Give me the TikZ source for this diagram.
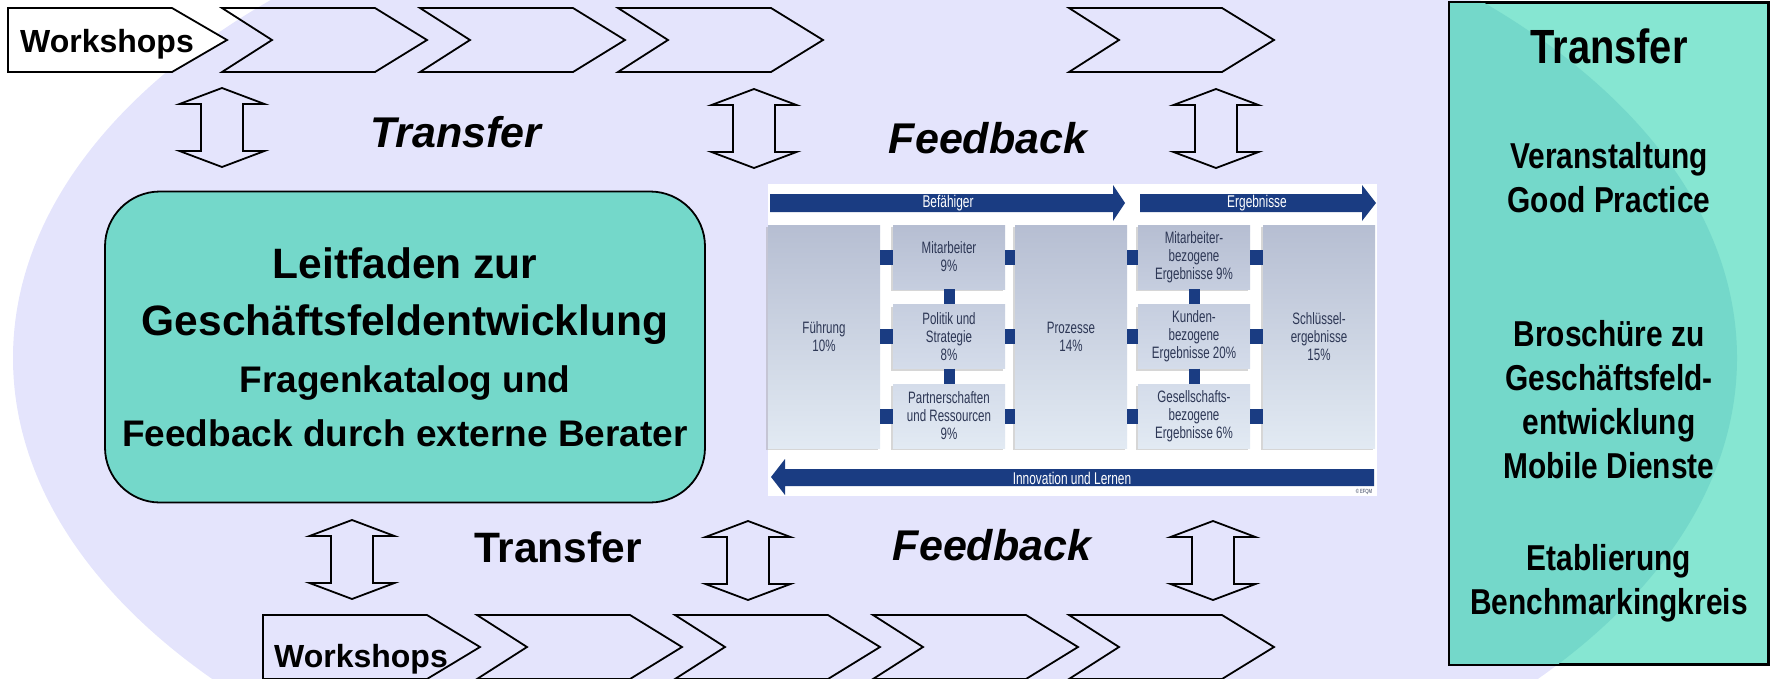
\documentclass[tikz,border=0pt]{standalone}
\usepackage{fontspec}
\usetikzlibrary{shadows}
\setmainfont{Liberation Sans}
\newfontfamily\narrowfont{Liberation Sans}[FakeStretch=0.83]
\newfontfamily\efqmfont{Liberation Sans}[FakeStretch=0.7]

\definecolor{lavender}{RGB}{228,228,252}
\definecolor{tealdark}{RGB}{116,216,202}
\definecolor{teallight}{RGB}{134,230,210}
\definecolor{efqmblue}{RGB}{26,60,130}
\definecolor{efqmgrey}{RGB}{45,55,85}
\definecolor{skyA}{RGB}{182,190,210}
\definecolor{skyB}{RGB}{198,206,223}
\definecolor{skyC}{RGB}{212,220,234}
\definecolor{skyD}{RGB}{226,234,243}

\newcommand{\smallline}{\fontsize{37}{57}\selectfont}

\begin{document}
\begin{tikzpicture}[x=1pt, y=-1pt]
        \tikzstyle{block line}=[draw=black, line width=1.8pt, line join=miter]
        \tikzstyle{flow text}=[inner sep=0pt, anchor=base,
            font=\bfseries\itshape\fontsize{43}{50}\selectfont]
        \tikzstyle{workshop}=[inner sep=0pt, anchor=base,
            font=\bfseries\fontsize{32}{38}\selectfont]
        \tikzstyle{main box}=[block line, fill=tealdark, rounded corners=55pt,
            minimum width=600pt, minimum height=311pt, align=center,
            font=\bfseries\fontsize{42.5}{57}\selectfont]
        \tikzstyle{panel text}=[align=center,
            font=\narrowfont\bfseries\fontsize{36}{44}\selectfont]
        \tikzstyle{model}=[inner sep=0pt, minimum width=112pt, align=center,
            text=efqmgrey, font=\efqmfont\fontsize{16.5}{18}\selectfont,
            shading=axis, top color=skyA, bottom color=skyD,
            drop shadow={shadow xshift=-2pt, shadow yshift=-2pt,
                opacity=0.35, fill=black!45}]
        \tikzstyle{model tall}=[model, minimum height=223pt]
        \tikzstyle{model small}=[model, minimum height=64pt]
        \tikzstyle{row one}=[top color=skyA, bottom color=skyB]
        \tikzstyle{row two}=[top color=skyB, bottom color=skyC]
        \tikzstyle{row three}=[top color=skyC, bottom color=skyD]
        \tikzstyle{bar text}=[text=white, font=\efqmfont\fontsize{17}{20}\selectfont]
        \tikzstyle{hlink}=[efqmblue, line width=15pt]
        \tikzstyle{vlink}=[efqmblue, line width=11pt]

        \useasboundingbox (0,0) rectangle (1770,678);
        \clip (0,0) rectangle (1770,678);

        % Background ellipse
        \fill[lavender] (875,358) ellipse [x radius=862, y radius=502];

        % Workshop chevrons, top and bottom row
        \draw[block line, fill=white] (8,8) -- (172,8) -- (227,40) -- (172,72)
            -- (8,72) -- cycle;
        \node[workshop] (wstop) at (107,52) {Workshops};
        \foreach \x in {222,420,618,1069}
            \draw[block line] (\x,8) -- ++(153,0) -- ++(52,32) -- ++(-52,32)
                -- ++(-153,0) -- ++(50,-32) -- cycle;

        \draw[block line] (263,615) -- (427,615) -- (480,647) -- (427,679)
            -- (263,679) -- cycle;
        \node[workshop] (wsbot) at (361,667) {Workshops};
        \foreach \x in {477,675,873,1069}
            \draw[block line] (\x,615) -- ++(153,0) -- ++(52,32) -- ++(-52,32)
                -- ++(-153,0) -- ++(50,-32) -- cycle;

        % Double arrows between the rows and the middle
        \foreach \x / \y in {222/88, 754/89, 1216/89, 352/520, 748/521, 1213/521}
            \draw[block line] (\x,\y) -- ++(42.5,16) -- ++(-21.5,0) -- ++(0,47)
                -- ++(21.5,0) -- ++(-42.5,16) -- ++(-42.5,-16) -- ++(21.5,0)
                -- ++(0,-47) -- ++(-21.5,0) -- cycle;

        \node[flow text] (transfertop) at (456,147) {Transfer};
        \node[flow text] (feedbacktop) at (988,153) {Feedback};
        \node[flow text, font=\bfseries\fontsize{42.5}{50}\selectfont]
            (transferbot) at (558,562) {Transfer};
        \node[flow text] (feedbackbot) at (992,560) {Feedback};

        % Guide box
        \node[main box] (guide) at (405,347)
            {Leitfaden zur\\Geschäftsfeldentwicklung\\
            \smallline Fragenkatalog und\\[-3pt]
            \smallline Feedback durch externe Berater};

        % EFQM model
        \node[fill=white, inner sep=0pt, minimum width=609pt,
            minimum height=312pt] (efqm) at (1072.5,340) {};
        \fill[efqmblue] (770,194) -- (1113,194) -- (1113,185) -- (1125,203)
            -- (1113,221) -- (1113,212) -- (770,212) -- cycle;
        \fill[efqmblue] (1140,194) -- (1362,194) -- (1362,185) -- (1376,203)
            -- (1362,221) -- (1362,212) -- (1140,212) -- cycle;
        \fill[efqmblue] (1374,469) -- (785,469) -- (785,459) -- (771,477)
            -- (785,495) -- (785,486) -- (1374,486) -- cycle;
        \node[bar text] (enablers) at (948,203) {Befähiger};
        \node[bar text] (results) at (1257,203) {Ergebnisse};
        \node[bar text] (learning) at (1072,478) {Innovation und Lernen};
        \node[text=efqmgrey, font=\efqmfont\fontsize{6}{7}\selectfont]
            (efqmcopy) at (1364,492) {© EFQM};

        \node[model tall] (fue) at (824,336.5) {Führung\\10\%};
        \node[model small, row one] (mit) at (949,257) {Mitarbeiter\\9\%};
        \node[model small, row two] (pol) at (949,336.5)
            {Politik und\\Strategie\\8\%};
        \node[model small, row three] (par) at (949,416)
            {Partnerschaften\\und Ressourcen\\9\%};
        \node[model tall] (pro) at (1071,336.5) {Prozesse\\14\%};
        \node[model small, row one] (emi) at (1194,257)
            {Mitarbeiter-\\bezogene\\Ergebnisse 9\%};
        \node[model small, row two] (eku) at (1194,336.5)
            {Kunden-\\bezogene\\Ergebnisse 20\%};
        \node[model small, row three] (ege) at (1194,416)
            {Gesellschafts-\\bezogene\\Ergebnisse 6\%};
        \node[model tall] (sch) at (1319,336.5)
            {Schlüssel-\\ergebnisse\\15\%};

        % Links between the criteria
        \foreach \b in {mit,pol,par} {
            \draw[hlink] (\b.west -| fue.east) -- (\b.west);
            \draw[hlink] (\b.east) -- (\b.east -| pro.west);
        }
        \foreach \b in {emi,eku,ege} {
            \draw[hlink] (\b.west -| pro.east) -- (\b.west);
            \draw[hlink] (\b.east) -- (\b.east -| sch.west);
        }
        \foreach \a / \b in {mit/pol, pol/par, emi/eku, eku/ege}
            \draw[vlink] (\a) -- (\b);

        % Transfer panel
        \node[block line, fill=teallight, inner sep=0pt, minimum width=318pt,
            minimum height=661pt] (panel) at (1609,333.5) {};
        \begin{scope}
            \clip (panel.north west) rectangle (panel.south east);
            \fill[tealdark] (875,358) ellipse [x radius=862, y radius=502];
        \end{scope}
        \draw[block line] (panel.north west) rectangle (panel.south east);

        \node[panel text, font=\narrowfont\bfseries\fontsize{48}{56}\selectfont,
            anchor=base] (ptitle) at (1609,63) {Transfer};
        \node[panel text] (pevent) at (1609,178) {Veranstaltung\\Good Practice};
        \node[panel text] (pbrochure) at (1609,400)
            {Broschüre zu\\Geschäftsfeld-\\entwicklung\\Mobile Dienste};
        \node[panel text] (pbench) at (1609,583)
            {Etablierung\\Benchmarkingkreis};
\end{tikzpicture}
\end{document}
